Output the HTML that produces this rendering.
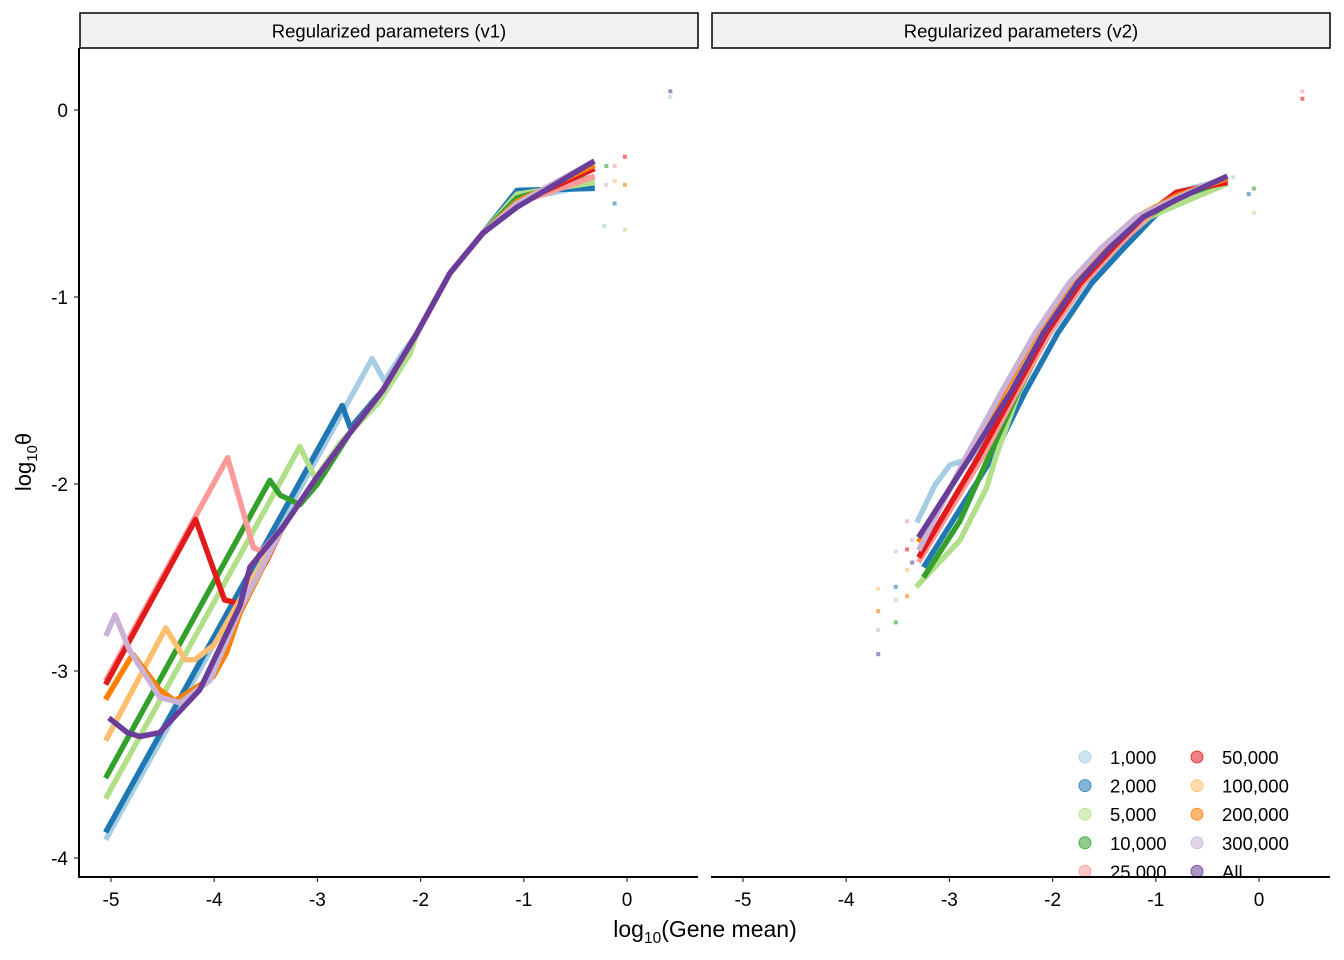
<!DOCTYPE html>
<html><head><meta charset="utf-8"><style>
html,body{margin:0;padding:0;background:#fff;}
svg{display:block;font-family:"Liberation Sans",Arial,sans-serif;}
</style></head><body>
<svg id="chart" width="1344" height="960" viewBox="0 0 1344 960" xmlns="http://www.w3.org/2000/svg">
<rect x="80" y="13" width="618" height="35" fill="#F2F2F2" stroke="#000" stroke-width="1.5"/>
<text x="389" y="37.5" font-size="18.5" text-anchor="middle">Regularized parameters (v1)</text>
<rect x="712" y="13" width="618" height="35" fill="#F2F2F2" stroke="#000" stroke-width="1.5"/>
<text x="1021" y="37.5" font-size="18.5" text-anchor="middle">Regularized parameters (v2)</text>
<g id="marks"></g>
<g id="legend"></g>
<g id="axes"></g>
<text x="705" y="937" font-size="23" text-anchor="middle">log<tspan font-size="15.5" dy="6">10</tspan><tspan dy="-6">(Gene mean)</tspan></text>
<text transform="translate(31,462) rotate(-90)" font-size="22" text-anchor="middle">log<tspan font-size="15" dy="6">10</tspan><tspan dy="-6">θ</tspan></text>
</svg>
<script>
const seriesNames = ["1,000","2,000","5,000","10,000","25,000","50,000","100,000","200,000","300,000","All"];
const seriesColors = ["#A6CEE3","#1F78B4","#B2DF8A","#33A02C","#FB9A99","#E31A1C","#FDBF6F","#FF7F00","#CAB2D6","#6A3D9A"];
const xTicks = [-5,-4,-3,-2,-1,0];
const yTicks = [0,-1,-2,-3,-4];
const commonV1 = [[-3.333,-2.23],[-3.004,-1.963],[-2.684,-1.727],[-2.364,-1.497],[-2.035,-1.193],[-1.715,-0.872],[-1.395,-0.658]];
const v1Shoulder = [[-1.066,-0.48],[-1.066,-0.43],[-1.066,-0.45],[-1.066,-0.47],[-1.066,-0.50],[-1.066,-0.50],[-1.066,-0.49],[-1.066,-0.49],[-1.066,-0.50],[-1.066,-0.52]];
const v1End = [[-0.339,-0.40],[-0.339,-0.42],[-0.339,-0.39],[-0.339,-0.36],[-0.339,-0.36],[-0.339,-0.32],[-0.339,-0.30],[-0.339,-0.30],[-0.339,-0.28],[-0.339,-0.28]];
const v1Prefix = [
  [[-5.04,-3.89],[-2.47,-1.33],[-2.35,-1.45],[-2.2,-1.32]],
  [[-5.04,-3.85],[-2.76,-1.58],[-2.68,-1.70],[-2.45,-1.55]],
  [[-5.04,-3.67],[-3.17,-1.80],[-3.02,-1.97],[-2.78,-1.78],[-2.4,-1.56],[-2.1,-1.3]],
  [[-5.04,-3.56],[-3.46,-1.98],[-3.36,-2.06],[-3.17,-2.11],[-3.0,-2.0]],
  [[-5.04,-3.04],[-3.87,-1.86],[-3.62,-2.34],[-3.54,-2.36]],
  [[-5.04,-3.06],[-4.18,-2.19],[-3.90,-2.62],[-3.75,-2.64],[-3.5,-2.42]],
  [[-5.04,-3.36],[-4.47,-2.77],[-4.28,-2.94],[-4.19,-2.94],[-4.0,-2.86],[-3.75,-2.62]],
  [[-5.04,-3.14],[-4.79,-2.91],[-4.53,-3.10],[-4.38,-3.16],[-4.21,-3.10],[-4.01,-3.03],[-3.88,-2.90],[-3.75,-2.69]],
  [[-5.04,-2.80],[-4.96,-2.70],[-4.82,-2.89],[-4.53,-3.14],[-4.33,-3.17],[-4.04,-3.05],[-3.75,-2.67]],
  [[-5.0,-3.26],[-4.84,-3.33],[-4.72,-3.35],[-4.53,-3.33],[-4.14,-3.10],[-3.75,-2.65],[-3.653,-2.444]]
];
const v2Levels = [-1.856,-1.513,-1.193,-0.925,-0.733,-0.572];
const v2LevelX = [
  [-2.75,-2.36,-2.02,-1.69,-1.37,-1.10],
  [-2.58,-2.27,-1.95,-1.62,-1.30,-1.02],
  [-2.55,-2.33,-2.04,-1.72,-1.40,-1.06],
  [-2.62,-2.34,-2.04,-1.71,-1.39,-1.08],
  [-2.68,-2.35,-2.03,-1.70,-1.38,-1.08],
  [-2.72,-2.38,-2.06,-1.73,-1.41,-1.12],
  [-2.82,-2.47,-2.15,-1.82,-1.50,-1.18],
  [-2.82,-2.48,-2.16,-1.83,-1.51,-1.19],
  [-2.84,-2.50,-2.17,-1.84,-1.52,-1.19],
  [-2.80,-2.41,-2.09,-1.76,-1.44,-1.12]
];
const v2Low = [
  [[-3.304,-2.193],[-3.14,-2.005],[-2.994,-1.898]],
  [[-3.236,-2.433]],
  [[-3.304,-2.54],[-2.897,-2.3],[-2.64,-2.02]],
  [[-3.236,-2.487],[-2.9,-2.2]],
  [[-3.285,-2.406]],
  [[-3.285,-2.38]],
  [[-3.285,-2.299]],
  [[-3.285,-2.299]],
  [[-3.285,-2.342]],
  [[-3.285,-2.273]]
];
const v2Top = [
  [[-0.8,-0.44],[-0.33,-0.37]],[[-0.8,-0.46],[-0.33,-0.38]],[[-0.8,-0.51],[-0.33,-0.40]],[[-0.8,-0.47],[-0.33,-0.38]],[[-0.8,-0.45],[-0.33,-0.38]],
  [[-0.8,-0.44],[-0.33,-0.39]],[[-0.8,-0.46],[-0.33,-0.37]],[[-0.8,-0.46],[-0.33,-0.37]],[[-0.8,-0.47],[-0.33,-0.36]],[[-0.8,-0.48],[-0.33,-0.36]]
];
const tailDotsV1 = [[-0.22,-0.62],[-0.12,-0.5],[-0.02,-0.64],[-0.2,-0.3],[-0.12,-0.3],[-0.02,-0.25],[-0.12,-0.38],[-0.02,-0.4],[-0.2,-0.4],[0.42,0.1],[0.42,0.07]];
const tailDotsV2 = [[-0.25,-0.36],[-0.1,-0.45],[-0.05,-0.55],[-0.05,-0.42],[0.42,0.1],[0.42,0.06],[-3.69,-2.56],[-3.69,-2.68],[-3.69,-2.78],[-3.69,-2.91],[-3.52,-2.36],[-3.52,-2.55],[-3.52,-2.62],[-3.52,-2.74],[-3.41,-2.2],[-3.41,-2.35],[-3.41,-2.46],[-3.41,-2.6],[-3.36,-2.3],[-3.36,-2.42]];

const Y0 = 110, YS = 187;
const panels = [{x0:111, xs:103.2, left:80, right:698},{x0:743, xs:103.2, left:712, right:1330}];
function sx(p,v){return p.x0 + (v+5)*p.xs;}
function sy(v){return Y0 - v*YS;}
const NS="http://www.w3.org/2000/svg";
const marks=document.getElementById('marks');
function mk(tag,attrs,parent){const e=document.createElementNS(NS,tag);for(const k in attrs)e.setAttribute(k,attrs[k]);parent.appendChild(e);return e;}

function drawLine(p,pts,i,pidx){
  const d=pts.map((q,j)=>(j?'L':'M')+sx(p,q[0]).toFixed(1)+' '+sy(q[1]).toFixed(1)).join(' ');
  const path=mk('path',{d:d,fill:'none',stroke:seriesColors[i],'stroke-width':5.5,'stroke-linejoin':'round','stroke-linecap':'square'},marks);
  
  
}
for(let i=0;i<10;i++){
  const last=v1Prefix[i][v1Prefix[i].length-1][0];
  const pts=v1Prefix[i].concat(commonV1.filter(c=>c[0]>last+0.05)).concat([v1Shoulder[i],v1End[i]]);
  drawLine(panels[0],pts,i,0);
}
for(let i=0;i<10;i++){
  const mid=v2Levels.map((y,k)=>[v2LevelX[i][k],y]);
  drawLine(panels[1],v2Low[i].concat(mid).concat(v2Top[i]),i,1);
}
function drawDots(p,dots){
  dots.forEach((d,k)=>{
    const r=mk('rect',{x:sx(p,d[0])-2,y:sy(d[1])-2,width:4,height:4,fill:seriesColors[k%10],opacity:0.6},marks);
    
    
  });
}
drawDots(panels[0],tailDotsV1);
drawDots(panels[1],tailDotsV2);

const lg=document.getElementById('legend');
seriesNames.forEach((n,i)=>{
  const col=Math.floor(i/5), row=i%5;
  const cx=1085+col*112, cy=757+row*28.6;
  const c=mk('circle',{cx:cx,cy:cy,r:6,fill:seriesColors[i],'fill-opacity':0.55,stroke:seriesColors[i],'stroke-opacity':0.8},lg);
  
  
  const t=mk('text',{x:cx+25,y:cy+7,'font-size':18.5},lg);
  t.textContent=n;
  
  
});

const ax=document.getElementById('axes');
mk('rect',{x:0,y:878,width:1344,height:82,fill:'#fff'},ax);
const yl=mk('line',{x1:79,y1:48,x2:79,y2:878,stroke:'#000','stroke-width':2},ax);


panels.forEach((p)=>{
  const bl=mk('line',{x1:p.left-1,y1:877,x2:p.right,y2:877,stroke:'#000','stroke-width':2},ax);
  
  
  xTicks.forEach(v=>{
    mk('line',{x1:sx(p,v),y1:877,x2:sx(p,v),y2:882,stroke:'#333','stroke-width':1.2},ax);
    const t=mk('text',{x:sx(p,v),y:906,'font-size':19,'text-anchor':'middle',fill:'#000'},ax);
    t.textContent=v;
    
    
  });
});
yTicks.forEach(v=>{
  mk('line',{x1:74,y1:sy(v),x2:79,y2:sy(v),stroke:'#333','stroke-width':1.2},ax);
  const t=mk('text',{x:68,y:sy(v)+7,'font-size':19,'text-anchor':'end',fill:'#000'},ax);
  t.textContent=v;
  
  
});
</script>
</body></html>
